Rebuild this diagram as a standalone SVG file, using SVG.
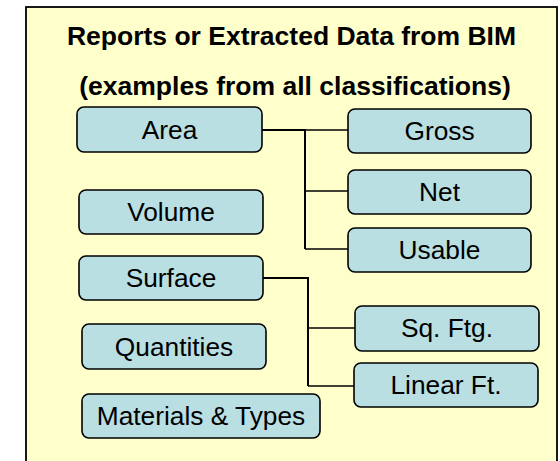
<svg xmlns="http://www.w3.org/2000/svg" width="560" height="461" viewBox="0 0 560 461">
<style>
.frame{fill:#FFFFCC;stroke:#000;stroke-width:1.8}
.node rect{fill:#B9DFE3;stroke:#000;stroke-width:1.6}
.node text{font-family:"Liberation Sans",Arial,sans-serif;font-size:26.3px;fill:#000;text-anchor:middle}
.title{font-family:"Liberation Sans",Arial,sans-serif;font-size:26.5px;font-weight:bold;fill:#000;text-anchor:middle}
.conn path{fill:none;stroke:#000;stroke-width:2}
.conn path.thin{stroke-width:1.5}
</style>
<rect class="frame" x="26" y="7" width="531" height="470"/>
<text class="title" x="291.5" y="45">Reports or Extracted Data from BIM</text>
<text class="title" x="295" y="95">(examples from all classifications)</text>
<g class="conn" id="connectors">
<path d="M262,130 H305 V249"/>
<path class="thin" d="M305,130 H348"/>
<path class="thin" d="M305,191 H348"/>
<path class="thin" d="M305,249 H348"/>
<path d="M263,278 H308 V386"/>
<path class="thin" d="M308,328 H355"/>
<path class="thin" d="M308,386 H354"/>
</g>
<g class="node" id="area"><rect x="77" y="107" width="185" height="45" rx="7"/><text x="169.5" y="139">Area</text></g>
<g class="node" id="gross"><rect x="348" y="109" width="183" height="44" rx="7"/><text x="439.5" y="140">Gross</text></g>
<g class="node" id="net"><rect x="348" y="170" width="183" height="44" rx="7"/><text x="439.5" y="201">Net</text></g>
<g class="node" id="usable"><rect x="348" y="228" width="183" height="44" rx="7"/><text x="439.5" y="259">Usable</text></g>
<g class="node" id="volume"><rect x="79" y="190" width="184" height="44" rx="7"/><text x="171" y="221">Volume</text></g>
<g class="node" id="surface"><rect x="79" y="256" width="184" height="44" rx="7"/><text x="171" y="287">Surface</text></g>
<g class="node" id="quantities"><rect x="82" y="324" width="184" height="45" rx="7"/><text x="174" y="356">Quantities</text></g>
<g class="node" id="materials"><rect x="82" y="394" width="238" height="44" rx="7"/><text x="201" y="425">Materials &amp; Types</text></g>
<g class="node" id="sqftg"><rect x="355" y="306" width="184" height="45" rx="7"/><text x="447" y="337">Sq. Ftg.</text></g>
<g class="node" id="linearft"><rect x="354" y="363" width="184" height="44" rx="7"/><text x="446" y="394">Linear Ft.</text></g>
</svg>
